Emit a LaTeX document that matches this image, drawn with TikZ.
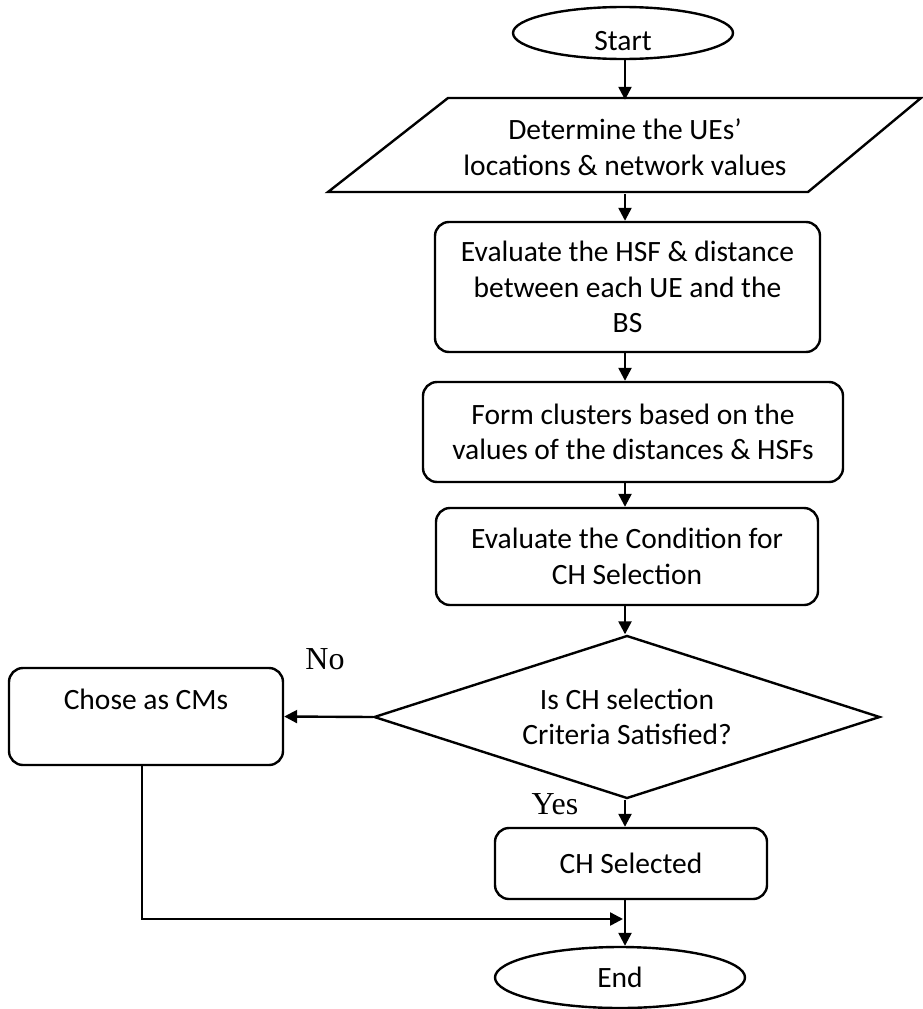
\documentclass[tikz,border=0pt]{standalone}
\usepackage{fontspec}
\setmainfont{Carlito}
\newfontfamily\tnr{Liberation Serif}
\usetikzlibrary{shapes.geometric,arrows.meta}
\begin{document}
\begin{tikzpicture}[x=1pt,y=-1pt,
  every node/.style={font=\fontsize{29.5}{35.5}\selectfont, align=center, inner sep=0pt},
  line/.style={line width=2.4pt},
  arr/.style={line width=2.4pt, -{Triangle[length=13pt,width=13pt]}},
  procbox/.style={draw, line width=2.4pt, rounded corners=14pt, rectangle},
  term/.style={draw, line width=2.4pt, ellipse},
  lbl/.style={font=\tnr\fontsize{32}{36}\selectfont}
]
\useasboundingbox (0,0) rectangle (923,1009);
\coordinate (axis) at (625,0);

% Start
\node[term, minimum width=220pt, minimum height=52pt] (start) at (623,33) {};
\node (starttxt) at (623,41) {Start};

% Input parallelogram
\draw[line, line join=miter] (448,98) -- (921,98) -- (808,192) -- (328,192) -- cycle;
\node[minimum width=350pt, minimum height=94pt] (input) at (625,147) {Determine the UEs'\\locations \& network values};

% Process boxes
\node[procbox, minimum width=385pt, minimum height=130pt] (eval) at (627.5,287)
  {Evaluate the HSF \& distance\\between each UE and the\\BS};
\node[procbox, minimum width=420pt, minimum height=100pt] (form) at (633,432)
  {Form clusters based on the\\values of the distances \& HSFs};
\node[procbox, minimum width=382pt, minimum height=97pt] (cond) at (627,556.5)
  {Evaluate the Condition for\\CH Selection};

% Decision
\node[draw, line width=2.4pt, diamond, aspect=3.1, minimum width=506pt, minimum height=163pt] (dec) at (627,717)
  {Is CH selection\\Criteria Satisfied?};

% Chose as CMs
\node[procbox, minimum width=274pt, minimum height=97pt] (chose) at (146,716.5)
  {Chose as CMs\\\mbox{}};

% CH Selected
\node[procbox, minimum width=272pt, minimum height=71pt] (sel) at (631,863.5) {CH Selected};

% End
\node[term, minimum width=250pt, minimum height=61pt] (end) at (620,977.5) {End};

% Labels
\node[lbl] (no) at (325,659) {No};
\node[lbl] (yes) at (555,804) {Yes};

% Connectors
\draw[arr] (start.south -| axis) -- (input.north -| axis);
\draw[arr] (input.south -| axis) -- (eval.north -| axis);
\draw[arr] (eval.south -| axis) -- (form.north -| axis);
\draw[arr] (form.south -| axis) -- (cond.north -| axis);
\draw[arr] (cond.south -| axis) -- (dec.north -| axis);
\draw[arr] (dec.west) -- (chose.east);
\draw[arr] (dec.south -| axis) -- (sel.north -| axis);
\draw[arr] (sel.south -| axis) -- (end.north -| axis);
\coordinate (merge) at (623,919);
\draw[arr] ([xshift=-4pt]chose.south) |- (merge);
\end{tikzpicture}
\end{document}
